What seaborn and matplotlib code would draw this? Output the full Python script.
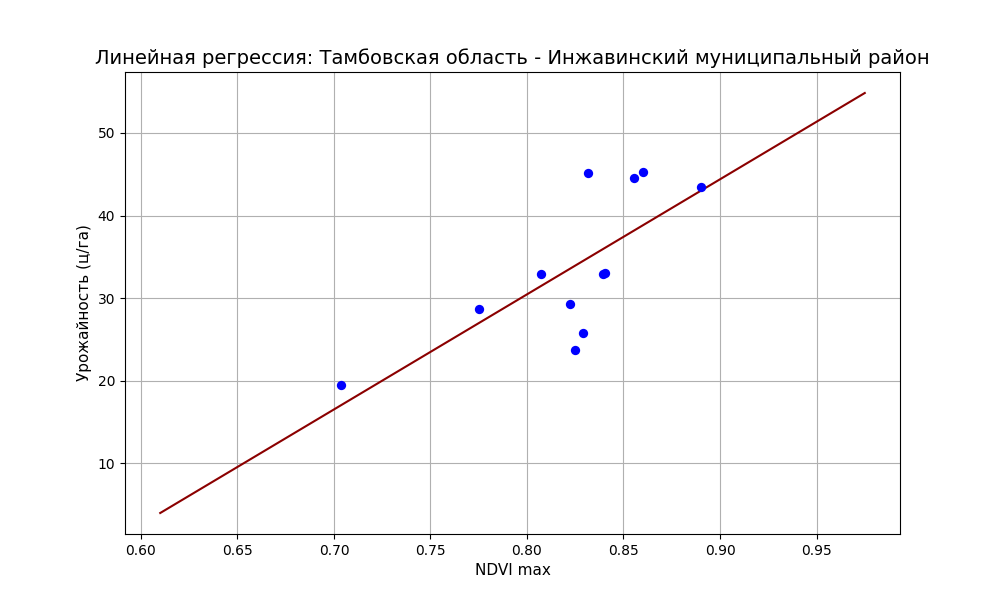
import numpy as np
import pandas as pd
import seaborn as sns
import matplotlib
matplotlib.use("Agg")
import matplotlib.pyplot as plt

# NDVI max vs yield
ndvi_max = [0.7035, 0.7749, 0.8074, 0.8225, 0.8247, 0.8288,
            0.8318, 0.8395, 0.8406, 0.8556, 0.8599, 0.8902]
yield_cha = [19.5, 28.65, 32.9, 29.3, 23.75, 25.8,
             45.2, 32.9, 33.1, 44.5, 45.3, 43.5]

# x range over which the regression line is drawn
line_range = [0.61, 0.975]

title = "Линейная регрессия: Тамбовская область - Инжавинский муниципальный район"

df = pd.DataFrame({"ndvi": ndvi_max, "yield": yield_cha})

# simple least squares fit
slope, intercept = np.polyfit(df["ndvi"], df["yield"], 1)
line_df = pd.DataFrame({"ndvi": line_range})
line_df["pred"] = slope * line_df["ndvi"] + intercept

fig, ax = plt.subplots(figsize=(10, 6), dpi=100)

sns.scatterplot(data=df, x="ndvi", y="yield", color="blue", s=45,
                linewidth=0, ax=ax, zorder=3)
sns.lineplot(data=line_df, x="ndvi", y="pred", color="darkred",
             linewidth=1.5, ax=ax, zorder=2)

ax.set_title(title, fontsize=14)
ax.set_xlabel("NDVI max", fontsize=11)
ax.set_ylabel("Урожайность (ц/га)", fontsize=11)
ax.grid(True)

fig.savefig("out.png", dpi=100)
